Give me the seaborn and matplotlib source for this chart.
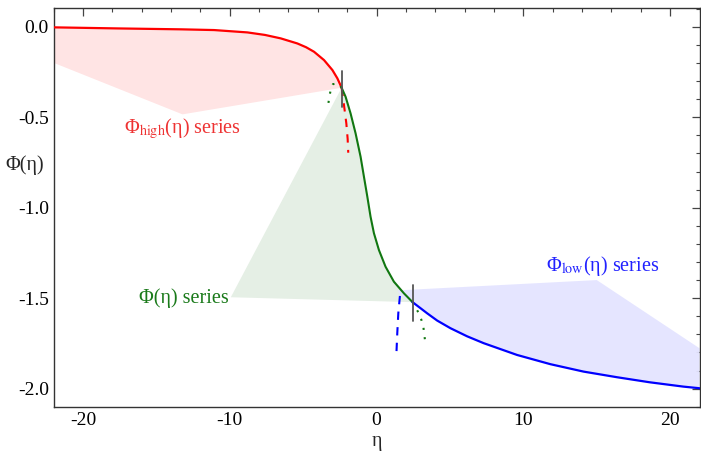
import matplotlib
matplotlib.use("Agg")
import matplotlib.pyplot as plt
import seaborn as sns
from matplotlib.ticker import MultipleLocator

# Phi_high series (solid part and dashed continuation)
high_eta = [-22.0, -17.6, -13.3, -11.07, -8.8, -7.6, -6.53, -5.4, -4.8, -4.26, -3.58, -3.01, -2.67, -2.38]
high_phi = [-0.003, -0.009, -0.014, -0.018, -0.031, -0.045, -0.064, -0.092, -0.113, -0.138, -0.184, -0.239, -0.285, -0.337]
high_ext_eta = [-2.38, -2.22, -2.06, -1.97, -1.93]
high_ext_phi = [-0.337, -0.433, -0.534, -0.62, -0.696]

# Phi series (middle), with dotted continuations on both sides
mid_eta = [-2.38, -2.11, -1.77, -1.43, -1.09, -0.86, -0.63, -0.41, -0.18, 0.16, 0.61, 1.18, 1.86, 2.45]
mid_phi = [-0.337, -0.387, -0.479, -0.589, -0.718, -0.829, -0.939, -1.05, -1.141, -1.234, -1.326, -1.409, -1.473, -1.522]
mid_left_eta = [-2.38, -2.61, -2.97, -3.13, -3.22, -3.29]
mid_left_phi = [-0.337, -0.313, -0.317, -0.351, -0.388, -0.427]
mid_right_eta = [2.45, 2.65, 2.88, 3.04, 3.18, 3.29]
mid_right_phi = [-1.522, -1.550, -1.584, -1.617, -1.654, -1.727]

# Phi_low series
low_eta = [2.45, 3.0, 3.45, 4.13, 5.03, 6.17, 7.3, 9.57, 11.84, 14.1, 16.37, 18.6, 20.9, 22.0]
low_phi = [-1.522, -1.556, -1.584, -1.624, -1.666, -1.711, -1.749, -1.814, -1.865, -1.906, -1.937, -1.965, -1.989, -1.998]
low_ext_eta = [1.59, 1.48, 1.41, 1.34]
low_ext_phi = [-1.488, -1.584, -1.694, -1.827]

# extra corners of the shaded label regions
high_hull_eta = [-13.22, -22.0]
high_hull_phi = [-0.484, -0.199]
mid_hull_eta = [-9.93]
mid_hull_phi = [-1.495]
low_hull_eta = [22.0, 15.0, 1.45, 1.59]
low_hull_phi = [-1.777, -1.40, -1.457, -1.488]

# matching points
match_eta = [-2.38, 2.45]
match_phi = [-0.337, -1.522]

sns.set_style("white")
plt.rcParams["font.family"] = ["Liberation Serif", "DejaVu Serif"]
plt.rcParams["mathtext.fontset"] = "stix"

fig = plt.figure(figsize=(7.01, 4.54), dpi=100)
ax = fig.add_axes([0.0765, 0.103, 0.9214, 0.879])

# shaded regions
ax.fill(high_eta + high_hull_eta, high_phi + high_hull_phi, color="#ffe4e4", lw=0, zorder=1)
ax.fill(mid_eta + mid_hull_eta, mid_phi + mid_hull_phi, color="#e5efe5", lw=0, zorder=1)
ax.fill(low_eta + low_hull_eta, low_phi + low_hull_phi, color="#e4e4ff", lw=0, zorder=1, alpha=0.95)

red, green, blue = "#ff0000", "#117711", "#0000ff"
sns.lineplot(x=high_eta, y=high_phi, sort=False, color=red, lw=1.6, ax=ax, zorder=3)
sns.lineplot(x=high_ext_eta, y=high_ext_phi, sort=False, color=red, lw=1.5, ax=ax, zorder=3).lines[-1].set_dashes([4, 3.5])
sns.lineplot(x=mid_eta, y=mid_phi, sort=False, color=green, lw=1.5, ax=ax, zorder=3)
sns.lineplot(x=mid_left_eta, y=mid_left_phi, sort=False, color=green, lw=1.5, ax=ax, zorder=3).lines[-1].set_dashes([1, 3.5])
sns.lineplot(x=mid_right_eta, y=mid_right_phi, sort=False, color=green, lw=1.5, ax=ax, zorder=3).lines[-1].set_dashes([1, 3.5])
sns.lineplot(x=low_eta, y=low_phi, sort=False, color=blue, lw=1.6, ax=ax, zorder=3)
sns.lineplot(x=low_ext_eta, y=low_ext_phi, sort=False, color=blue, lw=1.5, ax=ax, zorder=3).lines[-1].set_dashes([4, 3.5])

for e, p in zip(match_eta, match_phi):
    ax.plot([e, e], [p + 0.095, p - 0.105], color="#555555", lw=1.3, zorder=4)

ax.text(-13.2, -0.56, "Φ$_{\\mathrm{high}}$(η) series", color="#ee3333", fontsize=14.5,
        ha="center", va="center")
ax.text(-10.1, -1.5, "Φ(η) series", color="#1a7a1a", fontsize=14.5, ha="right", va="center")
ax.text(15.4, -1.32, "Φ$_{\\mathrm{low}}$(η) series", color="#2222ff", fontsize=14.5,
        ha="center", va="center")

ax.set_xlim(-22, 22)
ax.set_ylim(-2.103, 0.103)
ax.xaxis.set_major_locator(MultipleLocator(10))
ax.xaxis.set_minor_locator(MultipleLocator(2))
ax.yaxis.set_major_locator(MultipleLocator(0.5))
ax.yaxis.set_minor_locator(MultipleLocator(0.1))
ax.xaxis.set_major_formatter(plt.FuncFormatter(lambda v, _: f"{v:.0f}"))
ax.yaxis.set_major_formatter(plt.FuncFormatter(lambda v, _: f"{v:.1f}"))
ax.tick_params(which="both", direction="in", top=True, right=True, labelsize=14,
               color="#444444", labelcolor="black")
ax.tick_params(which="major", length=6, width=0.9)
ax.tick_params(which="minor", length=3, width=0.8)
for s in ax.spines.values():
    s.set_color("#333333")
    s.set_linewidth(1.0)

ax.set_xlabel("η", fontsize=14.5, labelpad=2)
ax.set_ylabel("Φ(η)", fontsize=14.5, rotation=0, labelpad=4)
ax.yaxis.set_label_coords(-0.045, 0.582)

fig.savefig("out.png", dpi=100)
